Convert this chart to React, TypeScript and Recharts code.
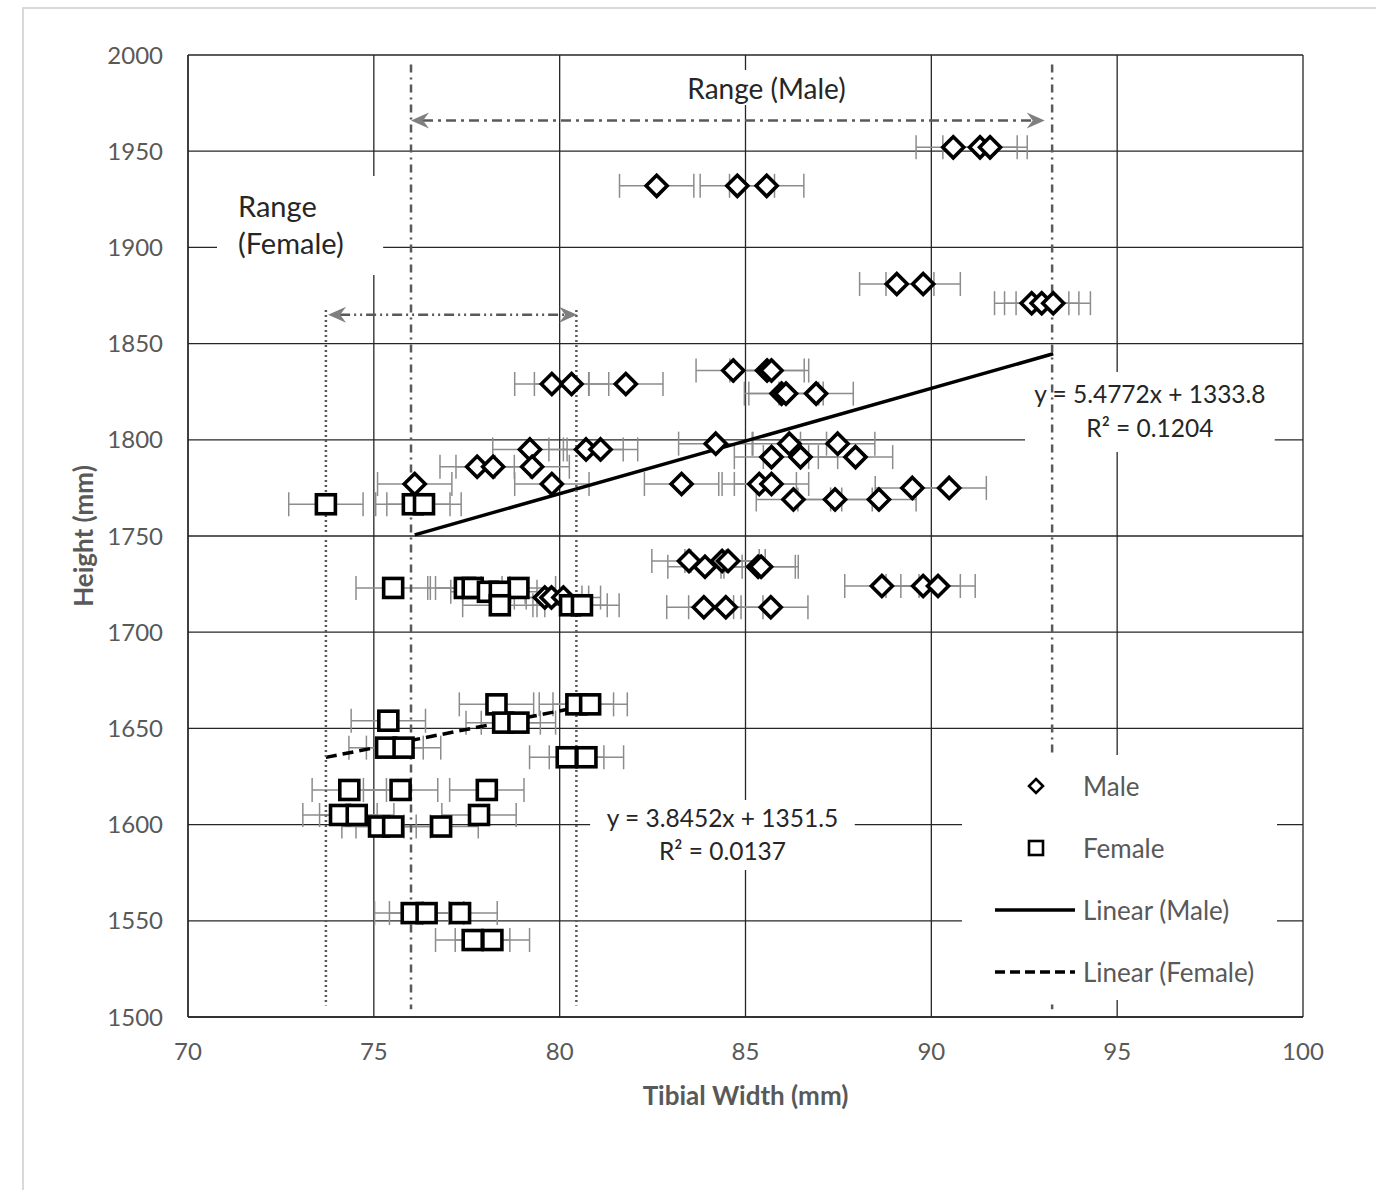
import {
  ScatterChart,
  Scatter,
  XAxis,
  YAxis,
  CartesianGrid,
  ErrorBar,
  ReferenceLine,
  ReferenceArea,
  Legend,
  Label,
} from 'recharts'

const FONT = 'Lato, "Open Sans", sans-serif'

const xTicks = [70, 75, 80, 85, 90, 95, 100]
const yTicks = [1500, 1550, 1600, 1650, 1700, 1750, 1800, 1850, 1900, 1950, 2000]

// tibial width (mm) / height (mm)
const maleWidth = [
  90.59, 91.31, 91.58, 82.61, 84.78, 85.57, 89.07, 89.78, 92.7, 92.97, 93.28,
  84.67, 85.58, 85.7, 79.79, 80.32, 81.78, 85.97, 86.09, 86.9, 84.2, 86.18, 87.48,
  79.2, 80.71, 81.1, 85.7, 86.48, 87.96, 77.78, 78.21, 79.26,
  76.1, 79.79, 83.28, 85.37, 85.7, 89.49, 90.48, 86.29, 87.41, 88.59,
  83.48, 84.37, 84.53, 83.91, 85.34, 85.42, 88.67, 89.78, 90.18,
  79.6, 79.78, 80.1, 83.88, 84.47, 85.68,
]
const maleHeight = [
  1952, 1952, 1952, 1932, 1932, 1932, 1881, 1881, 1871, 1871, 1871,
  1836, 1836, 1836, 1829, 1829, 1829, 1824, 1824, 1824, 1798, 1798, 1798,
  1795, 1795, 1795, 1791, 1791, 1791, 1786, 1786, 1786,
  1777, 1777, 1777, 1777, 1777, 1775, 1775, 1769, 1769, 1769,
  1737, 1737, 1737, 1734, 1734, 1734, 1724, 1724, 1724,
  1718, 1718, 1718, 1713, 1713, 1713,
]
const femaleWidth = [
  73.71, 76.05, 76.35, 75.52, 77.45, 77.66, 78.89, 78.07, 78.39, 78.39, 80.28, 80.6,
  78.3, 80.45, 80.82, 75.39, 78.48, 78.89, 75.33, 75.8, 80.19, 80.72,
  74.34, 75.72, 78.04, 74.09, 74.54, 77.83, 75.14, 75.52, 76.81,
  76.02, 76.42, 77.32, 77.66, 78.19,
]
const femaleHeight = [
  1766.5, 1766.5, 1766.5, 1723, 1723, 1723, 1723, 1721, 1721, 1714, 1714, 1714,
  1662.5, 1662.5, 1662.5, 1654, 1653, 1653, 1640, 1640, 1635, 1635,
  1618, 1618, 1618, 1605, 1605, 1605, 1599, 1599, 1599,
  1554, 1554, 1554, 1540, 1540,
]
const widthError = 1

const maleFit = { slope: 5.4772, intercept: 1333.8, from: 76.1, to: 93.28 }
const femaleFit = { slope: 3.8452, intercept: 1351.5, from: 73.71, to: 80.82 }

const maleRange = { min: 76.0, max: 93.25, arrowFrom: 76.0, arrowTo: 93.05, arrowY: 1966 }
const femaleRange = { min: 73.71, max: 80.45, arrowFrom: 73.77, arrowTo: 80.47, arrowY: 1865 }

const maleEquation = ['y = 5.4772x + 1333.8', 'R² = 0.1204']
const femaleEquation = ['y = 3.8452x + 1351.5', 'R² = 0.0137']
const legendItems = ['Male', 'Female', 'Linear (Male)', 'Linear (Female)']

const male = maleWidth.map((x, i) => ({ x, y: maleHeight[i], err: widthError }))
const female = femaleWidth.map((x, i) => ({ x, y: femaleHeight[i], err: widthError }))

const fitEnds = (f: typeof maleFit) => [
  { x: f.from, y: f.slope * f.from + f.intercept },
  { x: f.to, y: f.slope * f.to + f.intercept },
]

const Diamond = (p: any) => {
  const { cx, cy } = p
  const r = 10.5
  return (
    <polygon
      points={`${cx},${cy - r} ${cx + r},${cy} ${cx},${cy + r} ${cx - r},${cy}`}
      fill="#fff"
      stroke="#000"
      strokeWidth={3.6}
    />
  )
}

const Square = (p: any) => {
  const { cx, cy } = p
  return <rect x={cx - 9.5} y={cy - 9.5} width={19} height={19} fill="#fff" stroke="#000" strokeWidth={3.6} />
}

const arrowShape = (dash: string) => (p: any) => {
  const { x1, y1, x2, y2 } = p
  const h = 18
  const w = 8
  const n = 12
  return (
    <g>
      <line x1={x1 + n} y1={y1} x2={x2 - n} y2={y2} stroke="#595959" strokeWidth={2.5} strokeDasharray={dash} />
      <polygon points={`${x1},${y1} ${x1 + h},${y1 - w} ${x1 + n},${y1} ${x1 + h},${y1 + w}`} fill="#7f7f7f" />
      <polygon points={`${x2},${y2} ${x2 - h},${y2 - w} ${x2 - n},${y2} ${x2 - h},${y2 + w}`} fill="#7f7f7f" />
    </g>
  )
}

const textLines = (
  lines: string[],
  align: 'middle' | 'start',
  dx: number,
  dy: number,
  gap: number,
  size: number,
) =>
  (props: any) => {
    const { x, y, width } = props.viewBox
    const tx = align === 'middle' ? x + width / 2 : x + dx
    return (
      <g>
        {lines.map((t, i) => (
          <text
            key={t}
            x={tx}
            y={y + dy + i * gap}
            textAnchor={align}
            dominantBaseline="central"
            fill="#262626"
            fontSize={size}
            fontFamily={FONT}
          >
            {t}
          </text>
        ))}
      </g>
    )
  }

const LegendBox = () => (
  <div style={{ background: '#fff', width: 315, height: 245 }}>
    <svg width={315} height={245}>
      {legendItems.map((name, i) => {
        const cy = 31 + i * 62
        let icon = null
        if (i === 0) icon = <polygon points={`74,${cy - 7} 81,${cy} 74,${cy + 7} 67,${cy}`} fill="#fff" stroke="#000" strokeWidth={2.6} />
        if (i === 1) icon = <rect x={67} y={cy - 7} width={14} height={14} fill="#fff" stroke="#000" strokeWidth={2.6} />
        if (i === 2) icon = <line x1={33} x2={113} y1={cy} y2={cy} stroke="#000" strokeWidth={3.5} />
        if (i === 3) icon = <line x1={33} x2={113} y1={cy} y2={cy} stroke="#000" strokeWidth={3.5} strokeDasharray="10 5" />
        return (
          <g key={name}>
            {icon}
            <text x={121} y={cy} dominantBaseline="central" fill="#595959" fontSize={26} fontFamily={FONT}>
              {name}
            </text>
          </g>
        )
      })}
    </svg>
  </div>
)

const tickStyle = { fill: '#595959', fontSize: 24, fontFamily: FONT }

export default function App() {
  return (
    <div style={{ position: 'absolute', left: 0, top: 0, width: 1376, height: 1190 }}>
      <div
        style={{
          position: 'absolute',
          left: 22,
          top: 7,
          width: 1354,
          height: 1183,
          borderTop: '2.5px solid #d9d9d9',
          borderLeft: '2.5px solid #d9d9d9',
          boxSizing: 'border-box',
        }}
      />
      <div style={{ position: 'absolute', left: 0, top: 0 }}>
        <ScatterChart width={1376} height={1190} margin={{ top: 55, right: 73, bottom: 113, left: 100 }}>
          <CartesianGrid stroke="#262626" strokeWidth={1.3} />
          <XAxis
            type="number"
            dataKey="x"
            domain={[70, 100]}
            ticks={xTicks}
            height={60}
            tick={tickStyle}
            tickLine={false}
            tickSize={6}
            tickMargin={20}
            axisLine={{ stroke: '#262626', strokeWidth: 1.3 }}
          >
            <Label
              content={(p: any) => (
                <text
                  x={p.viewBox.x + p.viewBox.width / 2}
                  y={p.viewBox.y + 78}
                  textAnchor="middle"
                  dominantBaseline="central"
                  fill="#595959"
                  fontWeight="bold"
                  fontSize={26}
                  fontFamily={FONT}
                >
                  Tibial Width (mm)
                </text>
              )}
            />
          </XAxis>
          <YAxis
            type="number"
            dataKey="y"
            domain={[1500, 2000]}
            ticks={yTicks}
            width={88}
            tick={tickStyle}
            tickLine={false}
            tickSize={6}
            tickMargin={19}
            axisLine={{ stroke: '#262626', strokeWidth: 1.3 }}
          >
            <Label
              content={(p: any) => {
                const cx = p.viewBox.x - 17
                const cy = p.viewBox.y + p.viewBox.height / 2
                return (
                  <text
                    x={cx}
                    y={cy}
                    transform={`rotate(-90 ${cx} ${cy})`}
                    textAnchor="middle"
                    dominantBaseline="central"
                    fill="#595959"
                    fontWeight="bold"
                    fontSize={26}
                    fontFamily={FONT}
                  >
                    Height (mm)
                  </text>
                )
              }}
            />
          </YAxis>

          <ReferenceArea
            x1={83.1}
            x2={88.03}
            y1={1974}
            y2={1992.2}
            fill="#fff"
            fillOpacity={1}
            stroke="none"
            label={textLines(['Range (Male)'], 'middle', 0, 18, 0, 28)}
          />
          <ReferenceArea
            x1={70.78}
            x2={75.25}
            y1={1885.7}
            y2={1937.1}
            fill="#fff"
            fillOpacity={1}
            stroke="none"
            label={textLines(['Range', '(Female)'], 'start', 21, 29, 37, 29)}
          />
          <ReferenceArea
            x1={92.52}
            x2={99.24}
            y1={1793.7}
            y2={1835.2}
            fill="#fff"
            fillOpacity={1}
            stroke="none"
            label={textLines(maleEquation, 'middle', 0, 21, 34, 24.5)}
          />
          <ReferenceArea
            x1={80.82}
            x2={87.94}
            y1={1576.4}
            y2={1612.8}
            fill="#fff"
            fillOpacity={1}
            stroke="none"
            label={textLines(femaleEquation, 'middle', 0, 18, 33, 24.5)}
          />

          <Scatter name="Male" data={male} shape={Diamond} isAnimationActive={false}>
            <ErrorBar dataKey="err" direction="x" width={12} stroke="#8c8c8c" strokeWidth={1.5} />
          </Scatter>
          <Scatter name="Female" data={female} shape={Square} isAnimationActive={false}>
            <ErrorBar dataKey="err" direction="x" width={12} stroke="#8c8c8c" strokeWidth={1.5} />
          </Scatter>

          <ReferenceLine segment={fitEnds(maleFit)} stroke="#000" strokeWidth={3.5} />
          <ReferenceLine segment={fitEnds(femaleFit)} stroke="#000" strokeWidth={3.5} strokeDasharray="11 6" />

          <ReferenceLine
            segment={[{ x: maleRange.min, y: 1995 }, { x: maleRange.min, y: 1504 }]}
            stroke="#595959"
            strokeWidth={2.5}
            strokeDasharray="8 5 2 5"
          />
          <ReferenceLine
            segment={[{ x: maleRange.max, y: 1995 }, { x: maleRange.max, y: 1504 }]}
            stroke="#595959"
            strokeWidth={2.5}
            strokeDasharray="8 5 2 5"
          />
          <ReferenceLine
            segment={[{ x: femaleRange.min, y: 1867.5 }, { x: femaleRange.min, y: 1506 }]}
            stroke="#595959"
            strokeWidth={2.5}
            strokeDasharray="2 3"
          />
          <ReferenceLine
            segment={[{ x: femaleRange.max, y: 1867.5 }, { x: femaleRange.max, y: 1506 }]}
            stroke="#595959"
            strokeWidth={2.5}
            strokeDasharray="2 3"
          />
          <ReferenceLine
            segment={[{ x: maleRange.arrowFrom, y: maleRange.arrowY }, { x: maleRange.arrowTo, y: maleRange.arrowY }]}
            shape={arrowShape('10 5 3 5')}
          />
          <ReferenceLine
            segment={[{ x: femaleRange.arrowFrom, y: femaleRange.arrowY }, { x: femaleRange.arrowTo, y: femaleRange.arrowY }]}
            shape={arrowShape('10 4 2 4 2 4')}
          />

          <Legend
            layout="vertical"
            align="center"
            verticalAlign="middle"
            content={() => <LegendBox />}
            wrapperStyle={{ left: 962, top: 755, width: 315, height: 245 }}
          />
        </ScatterChart>
      </div>
    </div>
  )
}
